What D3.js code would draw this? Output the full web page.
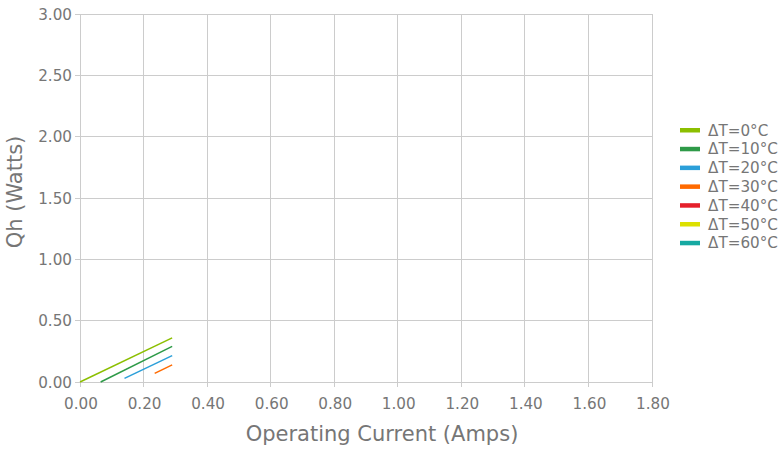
<!DOCTYPE html>
<html><head><meta charset="utf-8">
<script src="https://cdn.jsdelivr.net/npm/d3@7"></script>
<style>body{margin:0;background:#fff}svg{display:block}text{font-family:"DejaVu Sans",sans-serif}</style>
</head><body><svg id="c" width="783" height="452"></svg>
<script>
const seriesNames = ["ΔT=0°C","ΔT=10°C","ΔT=20°C","ΔT=30°C","ΔT=40°C","ΔT=50°C","ΔT=60°C"];
const seriesColors = ["#8cbf00","#2e9a48","#2b9fd9","#ff6a00","#e5202b","#dce000","#16a9a2"];
const current0 = [0.00, 0.29];  const qh0 = [0.00, 0.36];
const current10 = [0.065, 0.29]; const qh10 = [0.00, 0.29];
const current20 = [0.14, 0.29];  const qh20 = [0.03, 0.215];
const current30 = [0.235, 0.29]; const qh30 = [0.07, 0.14];
const xTicks = [0,0.2,0.4,0.6,0.8,1.0,1.2,1.4,1.6,1.8];
const yTicks = [0,0.5,1.0,1.5,2.0,2.5,3.0];

const seriesData = [
  current0.map((c,i)=>[c,qh0[i]]),
  current10.map((c,i)=>[c,qh10[i]]),
  current20.map((c,i)=>[c,qh20[i]]),
  current30.map((c,i)=>[c,qh30[i]]),
  [],[],[]
];

const svg = d3.select("#c");
const L=80,R=652,T=14,B=382;
const x = d3.scaleLinear().domain([0,1.8]).range([L,R]);
const y = d3.scaleLinear().domain([0,3]).range([B,T]);
const grid="#cccccc", txt="#767676";

svg.append("g").selectAll("line").data(xTicks).join("line")
  .attr("x1",d=>x(d)).attr("x2",d=>x(d)).attr("y1",T).attr("y2",B+5)
  .attr("stroke",grid).attr("stroke-width",1).attr("shape-rendering","crispEdges");
svg.append("g").selectAll("line").data(yTicks).join("line")
  .attr("x1",L-5).attr("x2",R).attr("y1",d=>y(d)).attr("y2",d=>y(d))
  .attr("stroke",grid).attr("stroke-width",1).attr("shape-rendering","crispEdges");

svg.append("g").selectAll("text").data(xTicks).join("text")
  .attr("x",d=>x(d)+1).attr("y",B+27).attr("text-anchor","middle")
  .attr("font-size",15.2).attr("fill",txt).text(d=>d.toFixed(2));
svg.append("g").selectAll("text").data(yTicks).join("text")
  .attr("x",L-8).attr("y",d=>y(d)+5.5).attr("text-anchor","end")
  .attr("font-size",15.2).attr("fill",txt).text(d=>d.toFixed(2));

svg.append("text").attr("x",382).attr("y",441).attr("text-anchor","middle")
  .attr("font-size",21).attr("fill",txt).text("Operating Current (Amps)");
svg.append("text").attr("transform",`translate(22,192) rotate(-90)`).attr("text-anchor","middle")
  .attr("font-size",21).attr("fill",txt).text("Qh (Watts)");

const line = d3.line().x(d=>x(d[0])).y(d=>y(d[1]));
svg.append("g").selectAll("path").data(seriesData).join("path")
  .attr("d",d=>d.length?line(d):null).attr("fill","none")
  .attr("stroke",(d,i)=>seriesColors[i]).attr("stroke-width",1.5);

const lg = svg.append("g").selectAll("g").data(seriesNames).join("g")
  .attr("transform",(d,i)=>`translate(680,${130+i*18.8})`);
lg.append("rect").attr("x",0).attr("y",-2).attr("width",20).attr("height",4.5).attr("fill",(d,i)=>seriesColors[i]);
lg.append("text").attr("x",28).attr("y",5.5).attr("font-size",15.2).attr("fill",txt).text(d=>d);
</script></body></html>
